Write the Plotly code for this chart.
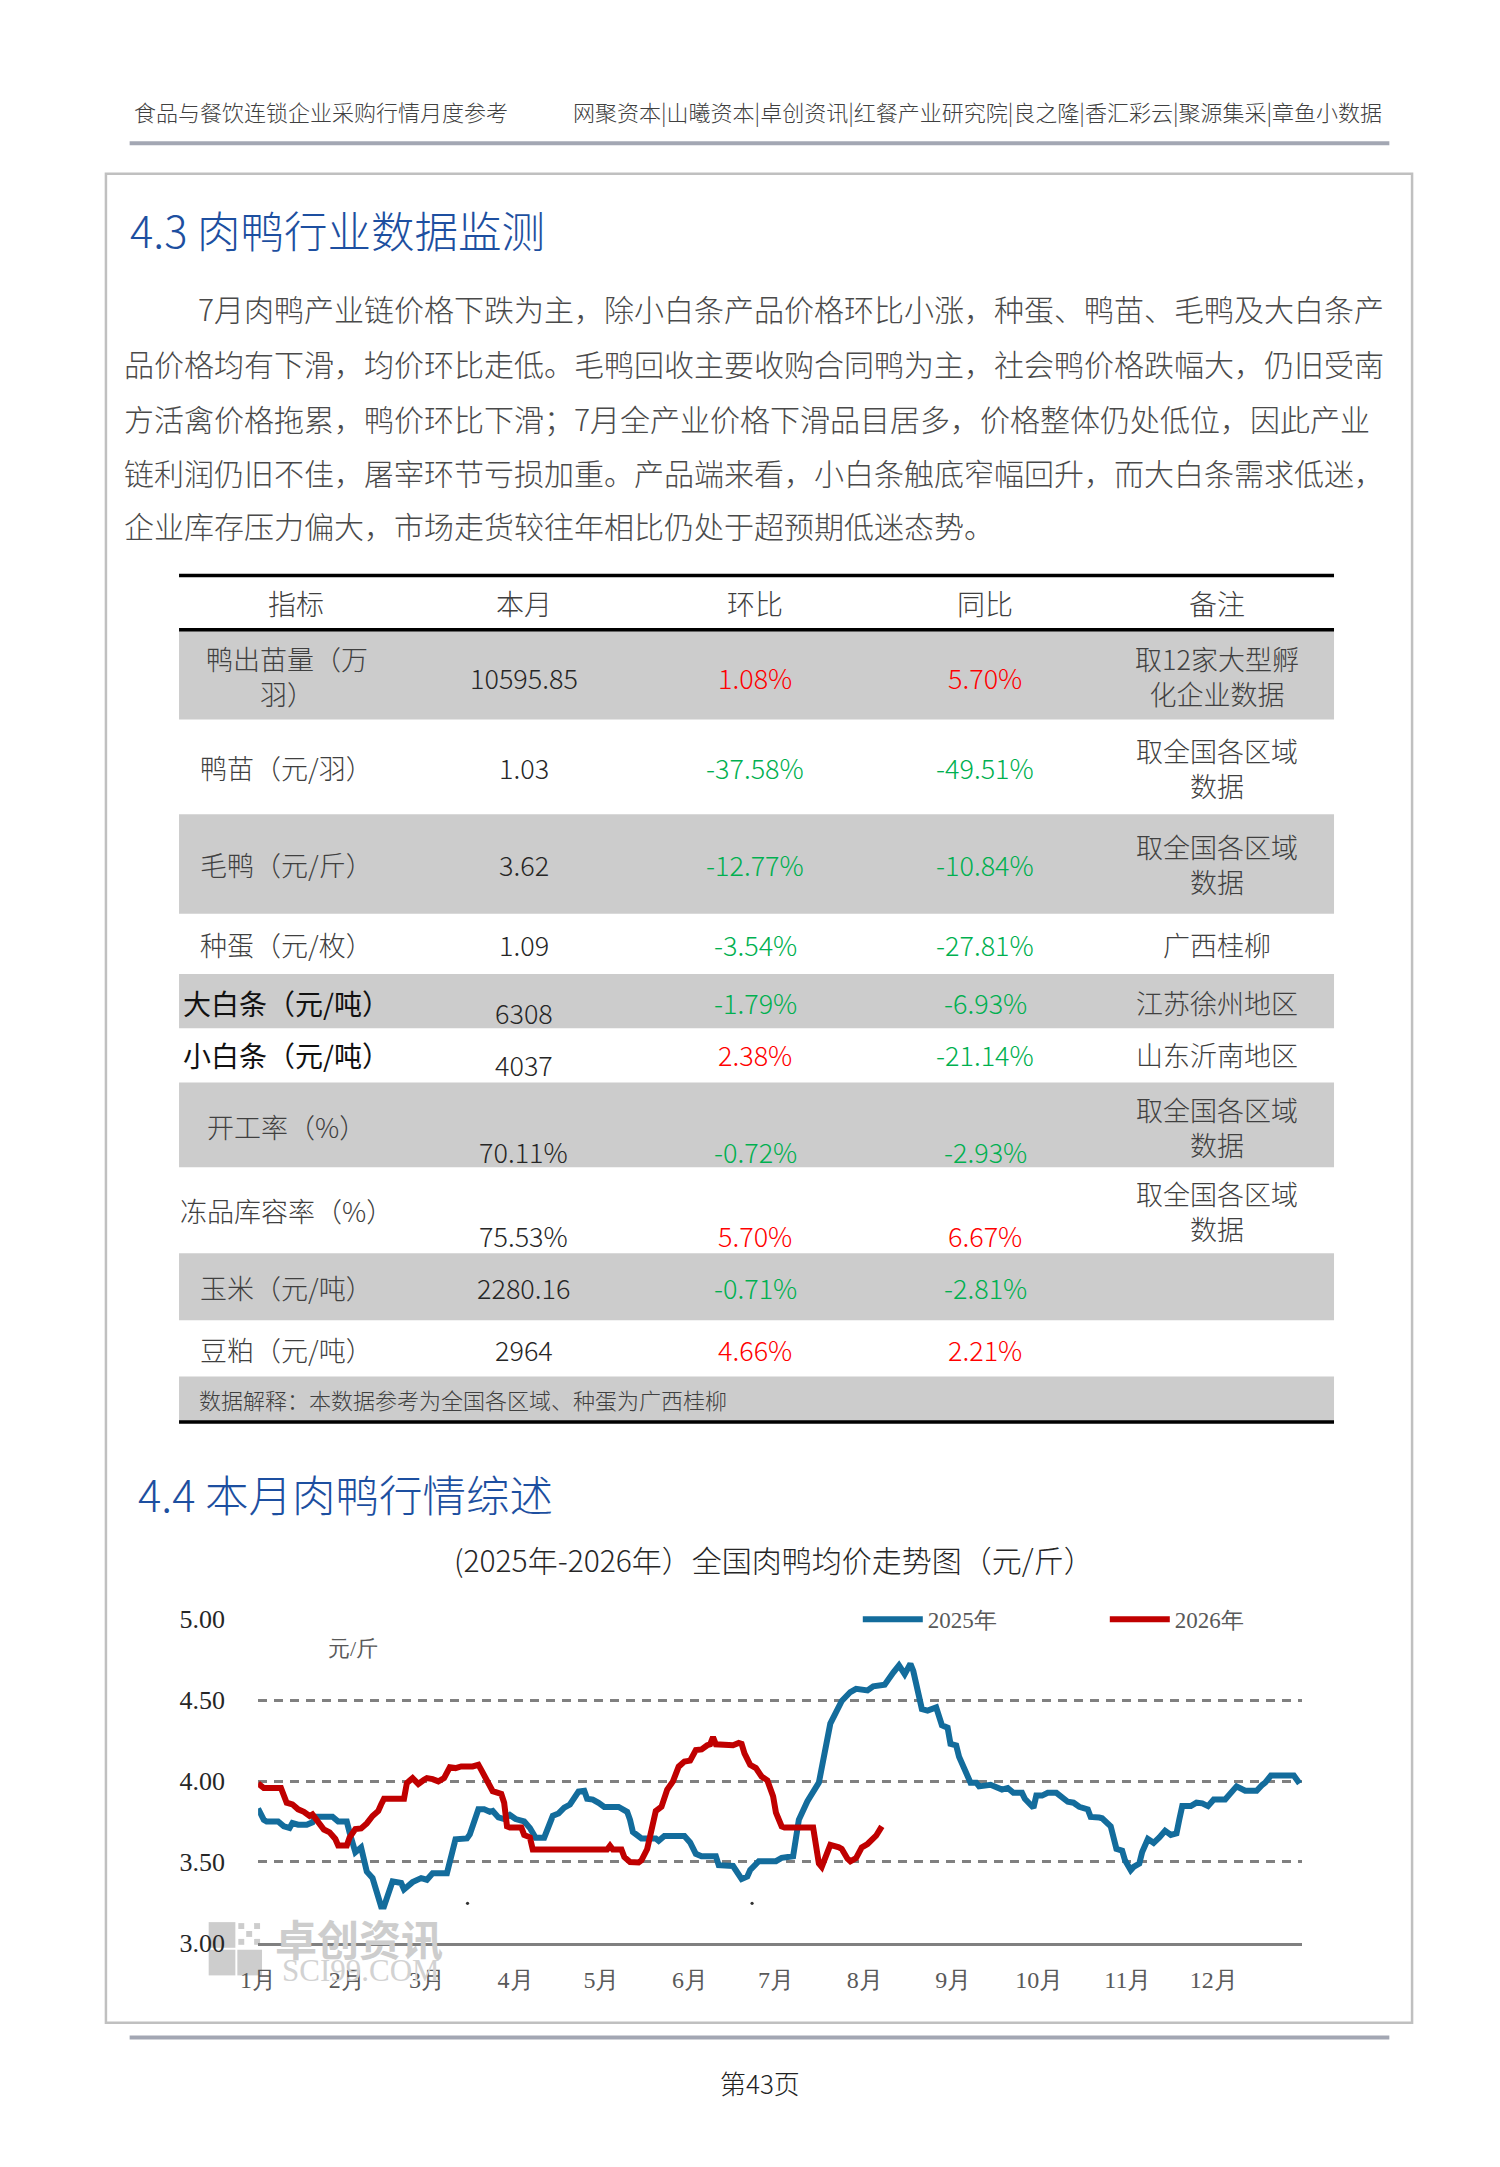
import plotly.graph_objects as go
import pandas as pd

W, H = 1500, 2167
SANS = "Noto Sans CJK SC, Noto Sans, sans-serif"
SERIF = "Liberation Serif, DejaVu Serif, serif"

# ---------------- data ----------------
header_left = "食品与餐饮连锁企业采购行情月度参考"
header_right = "网聚资本|山曦资本|卓创资讯|红餐产业研究院|良之隆|香汇彩云|聚源集采|章鱼小数据"
title_43 = "4.3 肉鸭行业数据监测"
title_44 = "4.4 本月肉鸭行情综述"
para_lines = [
    "7月肉鸭产业链价格下跌为主，除小白条产品价格环比小涨，种蛋、鸭苗、毛鸭及大白条产",
    "品价格均有下滑，均价环比走低。毛鸭回收主要收购合同鸭为主，社会鸭价格跌幅大，仍旧受南",
    "方活禽价格拖累，鸭价环比下滑；7月全产业价格下滑品目居多，价格整体仍处低位，因此产业",
    "链利润仍旧不佳，屠宰环节亏损加重。产品端来看，小白条触底窄幅回升，而大白条需求低迷，",
    "企业库存压力偏大，市场走货较往年相比仍处于超预期低迷态势。",
]

table_header = ["指标", "本月", "环比", "同比", "备注"]
indicators = ["鸭出苗量（万<br>羽）", "鸭苗（元/羽）", "毛鸭（元/斤）", "种蛋（元/枚）",
              "大白条（元/吨）", "小白条（元/吨）", "开工率（%）", "冻品库容率（%）",
              "玉米（元/吨）", "豆粕（元/吨）"]
this_month = ["10595.85", "1.03", "3.62", "1.09", "6308", "4037", "70.11%", "75.53%",
              "2280.16", "2964"]
mom_pct = [1.08, -37.58, -12.77, -3.54, -1.79, 2.38, -0.72, 5.70, -0.71, 4.66]
yoy_pct = [5.70, -49.51, -10.84, -27.81, -6.93, -21.14, -2.93, 6.67, -2.81, 2.21]
remarks = ["取12家大型孵<br>化企业数据", "取全国各区域<br>数据", "取全国各区域<br>数据", "广西桂柳",
           "江苏徐州地区", "山东沂南地区", "取全国各区域<br>数据", "取全国各区域<br>数据", "", ""]
table_note = "数据解释：本数据参考为全国各区域、种蛋为广西桂柳"

chart_title = "(2025年-2026年）全国肉鸭均价走势图（元/斤）"
unit_label = "元/斤"
series_names = ["2025年", "2026年"]
month_ticks = ["2025-01-01", "2025-02-01", "2025-03-01", "2025-04-01", "2025-05-01", "2025-06-01",
               "2025-07-01", "2025-08-01", "2025-09-01", "2025-10-01", "2025-11-01", "2025-12-01"]
month_labels = ["1月", "2月", "3月", "4月", "5月", "6月", "7月", "8月", "9月", "10月", "11月", "12月"]
y_ticks = [3.0, 3.5, 4.0, 4.5, 5.0]

dates_2025 = [
    "01-01", "01-03", "01-04", "01-08", "01-10", "01-12", "01-13", "01-15", "01-18", "01-20",
    "01-21", "01-27", "01-29", "02-01", "02-02", "02-04", "02-06", "02-08", "02-10", "02-13",
    "02-14", "02-17", "02-20", "02-21", "02-24", "02-27", "03-01", "03-03", "03-08", "03-11",
    "03-15", "03-16", "03-19", "03-21", "03-23", "03-24", "03-26", "03-28", "03-30", "04-01",
    "04-04", "04-06", "04-08", "04-11", "04-14", "04-16", "04-18", "04-20", "04-23", "04-25",
    "04-26", "04-28", "04-30", "05-02", "05-07", "05-10", "05-11", "05-12", "05-15", "05-20",
    "05-21", "05-23", "05-30", "06-01", "06-03", "06-05", "06-10", "06-11", "06-16", "06-18",
    "06-19", "06-21", "06-22", "06-25", "07-01", "07-03", "07-07", "07-09", "07-12", "07-16",
    "07-18", "07-20", "07-24", "07-27", "07-29", "08-02", "08-04", "08-08", "08-11", "08-13",
    "08-15", "08-17", "08-18", "08-21", "08-23", "08-26", "08-28", "08-30", "08-31", "09-02",
    "09-03", "09-05", "09-07", "09-09", "09-10", "09-14", "09-16", "09-18", "09-20", "09-22",
    "09-25", "09-26", "09-29", "09-30", "10-02", "10-04", "10-07", "10-09", "10-11", "10-13",
    "10-15", "10-18", "10-19", "10-22", "10-23", "10-26", "10-27", "10-28", "10-30", "10-31",
    "11-02", "11-03", "11-05", "11-06", "11-08", "11-10", "11-12", "11-14", "11-16", "11-18",
    "11-19", "11-20", "11-23", "11-25", "11-27", "11-29", "12-01", "12-05", "12-08", "12-09",
    "12-12", "12-16", "12-18", "12-19", "12-21", "12-29", "12-31",
]
price_2025 = [
    3.83, 3.76, 3.75, 3.75, 3.72, 3.71, 3.74, 3.73, 3.73, 3.745,
    3.78, 3.78, 3.75, 3.75, 3.68, 3.56, 3.59, 3.44, 3.40, 3.225,
    3.225, 3.38, 3.37, 3.33, 3.375, 3.40, 3.39, 3.43, 3.43, 3.64,
    3.645, 3.67, 3.825, 3.825, 3.81, 3.815, 3.775, 3.765, 3.79, 3.765,
    3.75, 3.71, 3.65, 3.65, 3.785, 3.80, 3.835, 3.855, 3.935, 3.94,
    3.89, 3.885, 3.865, 3.84, 3.84, 3.81, 3.76, 3.685, 3.645, 3.645,
    3.63, 3.66, 3.66, 3.62, 3.55, 3.535, 3.535, 3.48, 3.475, 3.41,
    3.395, 3.41, 3.45, 3.505, 3.505, 3.525, 3.535, 3.76, 3.875, 3.99,
    4.19, 4.355, 4.495, 4.55, 4.57, 4.56, 4.585, 4.595, 4.67, 4.715,
    4.66, 4.725, 4.68, 4.445, 4.435, 4.455, 4.345, 4.33, 4.23, 4.22,
    4.15, 4.08, 3.99, 3.99, 3.967, 3.977, 3.957, 3.947, 3.957, 3.927,
    3.927, 3.89, 3.835, 3.91, 3.91, 3.927, 3.927, 3.896, 3.872, 3.866,
    3.841, 3.825, 3.778, 3.774, 3.77, 3.72, 3.652, 3.581, 3.57, 3.51,
    3.449, 3.469, 3.49, 3.561, 3.642, 3.618, 3.652, 3.693, 3.667, 3.677,
    3.764, 3.845, 3.845, 3.866, 3.862, 3.845, 3.886, 3.886, 3.947, 3.967,
    3.94, 3.94, 3.977, 3.99, 4.034, 4.034, 3.985,
]
dates_2026 = [
    "01-01", "01-03", "01-09", "01-10", "01-11", "01-13", "01-15", "01-17", "01-19", "01-20",
    "01-22", "01-24", "01-26", "01-28", "01-29", "02-01", "02-02", "02-04", "02-06", "02-08",
    "02-10", "02-12", "02-13", "02-14", "02-21", "02-22", "02-24", "02-26", "02-28", "03-01",
    "03-03", "03-05", "03-07", "03-09", "03-11", "03-13", "03-17", "03-19", "03-20", "03-22",
    "03-23", "03-24", "03-27", "03-28", "03-29", "03-30", "04-03", "04-04", "04-06", "04-07",
    "05-03", "05-04", "05-05", "05-08", "05-09", "05-11", "05-14", "05-15", "05-17", "05-19",
    "05-20", "05-22", "05-24", "05-26", "05-28", "05-30", "06-01", "06-03", "06-05", "06-07",
    "06-08", "06-09", "06-10", "06-16", "06-18", "06-19", "06-20", "06-22", "06-24", "06-26",
    "06-28", "06-30", "07-01", "07-03", "07-04", "07-14", "07-15", "07-16", "07-17", "07-19",
    "07-20", "07-23", "07-24", "07-26", "07-27", "07-29", "07-31", "08-02", "08-04", "08-05",
    "08-07",
]
price_2026 = [
    3.985, 3.957, 3.957, 3.896, 3.866, 3.856, 3.825, 3.81, 3.784, 3.794,
    3.744, 3.70, 3.683, 3.642, 3.601, 3.601, 3.652, 3.703, 3.707, 3.738,
    3.784, 3.815, 3.855, 3.89, 3.89, 3.988, 4.018, 3.982, 4.008, 4.018,
    4.012, 3.998, 4.018, 4.085, 4.08, 4.09, 4.09, 4.10, 4.069, 4.008,
    3.977, 3.937, 3.92, 3.866, 3.72, 3.713, 3.713, 3.667, 3.652, 3.577,
    3.577, 3.60, 3.577, 3.577, 3.53, 3.50, 3.497, 3.51, 3.58, 3.72,
    3.815, 3.841, 3.947, 3.998, 4.089, 4.12, 4.126, 4.191, 4.195, 4.221,
    4.227, 4.272, 4.227, 4.221, 4.235, 4.23, 4.171, 4.10, 4.08, 4.028,
    4.004, 3.906, 3.805, 3.72, 3.713, 3.713, 3.622, 3.49, 3.469, 3.561,
    3.605, 3.59, 3.58, 3.52, 3.504, 3.524, 3.59, 3.611, 3.652, 3.662,
    3.72,
]
page_label = "第43页"

# ---------------- helpers (pixel -> paper) ----------------
def X(px):
    return px / W


def Y(py):
    return 1 - py / H


def txt(x, y, s, size, color="#404040", anchor="center", family=SANS, weight=None):
    f = dict(family=family, size=size, color=color)
    if weight:
        f["weight"] = weight
    return dict(x=X(x), y=Y(y), xref="paper", yref="paper", text=s, showarrow=False,
                xanchor=anchor, yanchor="middle", align=anchor if anchor != "center" else "center",
                font=f)


def rect(x0, y0, x1, y1, fill=None, line=None, lw=0, layer="below"):
    d = dict(type="rect", xref="paper", yref="paper", x0=X(x0), x1=X(x1), y0=Y(y0), y1=Y(y1),
             layer=layer, line=dict(width=lw, color=line or "rgba(0,0,0,0)"))
    if fill:
        d["fillcolor"] = fill
    return d


def hline(x0, x1, y, color, width):
    return dict(type="line", xref="paper", yref="paper", x0=X(x0), x1=X(x1), y0=Y(y), y1=Y(y),
                line=dict(color=color, width=width), layer="above")


shapes = []
ann = []
LIGHT = 300

# header / page frame
ann.append(txt(115, 98, header_left, 22, "#404040", "left", weight=LIGHT))
ann.append(txt(1383, 98, header_right, 22, "#404040", "right", weight=LIGHT))
shapes.append(hline(113, 1388, 131, "#a3a7b3", 4))
shapes.append(rect(89, 162, 1411, 2036, line="#c0c0c0", lw=2.5))
shapes.append(hline(113, 1388, 2051, "#a3a7b3", 4))
ann.append(txt(751, 2097, page_label, 26, "#222222", weight=LIGHT))

# section 4.3
ann.append(txt(111, 218, title_43, 43.5, "#1d4fa0", "left", weight=LIGHT))
para_x = [180, 105, 105, 105, 105]
para_y = [298, 354, 409, 464, 518]
for lx, ly, s in zip(para_x, para_y, para_lines):
    ann.append(txt(lx, ly, s, 30.0, "#4a4a4a", "left", weight=LIGHT))

# table
col_x = [272, 512, 746, 979, 1214]
head_x = [281, 512, 746, 979, 1214]
row_bounds = [625, 715, 811, 912, 973, 1028, 1083, 1169, 1256, 1324, 1381]
label_y = [671, 764, 862, 943, 1002, 1055, 1128, 1213, 1291, 1354]
value_y = [672, 764, 862, 943, 1012, 1065, 1153, 1238, 1291, 1354]
change_y = [672, 764, 862, 943, 1002, 1055, 1153, 1238, 1291, 1354]
TL, TR = 163, 1332
for i in range(len(indicators)):
    if i % 2 == 0:
        shapes.append(rect(TL, row_bounds[i], TR, row_bounds[i + 1], fill="#cccccc"))
shapes.append(rect(TL, 1381, TR, 1426, fill="#cccccc"))
shapes.append(hline(TL, TR, 569, "#000000", 3.5))
shapes.append(hline(TL, TR, 624, "#000000", 3.5))
shapes.append(hline(TL, TR, 1427, "#000000", 3.5))
for hx, h in zip(head_x, table_header):
    ann.append(txt(hx, 597, h, 28, "#404040", weight=LIGHT))
for i in range(len(indicators)):
    bold_row = indicators[i].startswith(("大白条", "小白条"))
    ann.append(txt(col_x[0], label_y[i], indicators[i], 28 if bold_row else 27,
                   "#111111" if bold_row else "#404040", weight=None if bold_row else LIGHT))
    ann.append(txt(col_x[1], value_y[i], this_month[i], 27, "#262626", weight=LIGHT))
    for cx, v in ((col_x[2], mom_pct[i]), (col_x[3], yoy_pct[i])):
        ann.append(txt(cx, change_y[i], f"{v:.2f}%", 27, "#ff0000" if v > 0 else "#00b050",
                       weight=LIGHT))
    if remarks[i]:
        ann.append(txt(col_x[4], label_y[i], remarks[i], 27, "#404040", weight=LIGHT))
ann.append(txt(181, 1404, table_note, 22, "#404040", "left", weight=LIGHT))

# section 4.4
ann.append(txt(119, 1500, title_44, 43.5, "#1d4fa0", "left", weight=LIGHT))
ann.append(txt(765, 1566, chart_title, 30, "#262626", weight=LIGHT))
ann.append(txt(312, 1657, unit_label, 22, "#595959", "left", SERIF))

# watermark (卓创资讯 SCI99.COM)
wm = "#cdcdcd"
shapes.append(rect(193, 1934, 220, 1960, fill=wm))
shapes.append(rect(193, 1962, 220, 1988, fill=wm))
shapes.append(rect(222, 1962, 247, 1988, fill=wm))
for gx in range(3):
    for gy in range(3):
        if (gx + gy) % 2 == 0:
            shapes.append(rect(223 + gx * 8, 1935 + gy * 8, 229 + gx * 8, 1941 + gy * 8, fill=wm))
ann.append(txt(345, 1950, "<b>卓创资讯</b>", 42, wm))
ann.append(txt(347, 1983, "SCI99.COM", 31, "#d2d2d2", family=SERIF))

# tiny stray dots in the chart image
for dx in (455, 743):
    shapes.append(dict(type="circle", xref="paper", yref="paper", x0=X(dx - 1.6), x1=X(dx + 1.6),
                       y0=Y(1915 + 1.6), y1=Y(1915 - 1.6), fillcolor="#333333",
                       line=dict(width=0), layer="above"))

# ---------------- chart ----------------
x25 = pd.to_datetime(["2025-" + d for d in dates_2025])
x26_actual = pd.to_datetime(["2026-" + d for d in dates_2026])
x26 = x26_actual - pd.DateOffset(years=1)  # overlay on the same Jan–Dec axis

fig = go.Figure()
fig.add_trace(go.Scatter(x=x25, y=price_2025, mode="lines", name=series_names[0],
                         line=dict(color="#136c9c", width=6)))
fig.add_trace(go.Scatter(x=x26, y=price_2026, mode="lines", name=series_names[1],
                         line=dict(color="#c00000", width=6)))

fig.update_layout(
    width=W, height=H, margin=dict(l=0, r=0, t=0, b=0),
    paper_bgcolor="white", plot_bgcolor="rgba(0,0,0,0)",
    shapes=shapes, annotations=ann,
    showlegend=True,
    legend=dict(orientation="h", x=X(850), y=Y(1627), xanchor="left", yanchor="middle",
                bgcolor="rgba(0,0,0,0)", font=dict(family=SERIF, size=23, color="#595959"),
                itemwidth=60, entrywidth=172, traceorder="normal"),
    xaxis=dict(domain=[X(243), X(1300)], range=["2025-01-01", "2026-01-01"], type="date",
               tickvals=month_ticks, ticktext=month_labels, showgrid=False, zeroline=False,
               showline=True, linecolor="#808080", linewidth=3, ticks="",
               tickfont=dict(family=SERIF, size=24, color="#595959"), ticklabelstandoff=13),
    yaxis=dict(domain=[Y(1955), Y(1627)], range=[3.0, 5.0], tickvals=y_ticks,
               tickformat=".2f", showgrid=True, gridcolor="#808080", gridwidth=3,
               griddash="9px,7px", zeroline=False, showline=False, ticks="",
               tickfont=dict(family=SERIF, size=26, color="#262626"), ticklabelstandoff=32),
)

post = ("document.documentElement.style.margin='0';document.body.style.margin='0';"
        "document.body.style.overflow='hidden';"
        "var gd=document.getElementById('{plot_id}');"
        "gd.style.position='absolute';gd.style.left='0px';gd.style.top='0px';")
fig.write_html("out.html", config={"displayModeBar": False}, post_script=post)
